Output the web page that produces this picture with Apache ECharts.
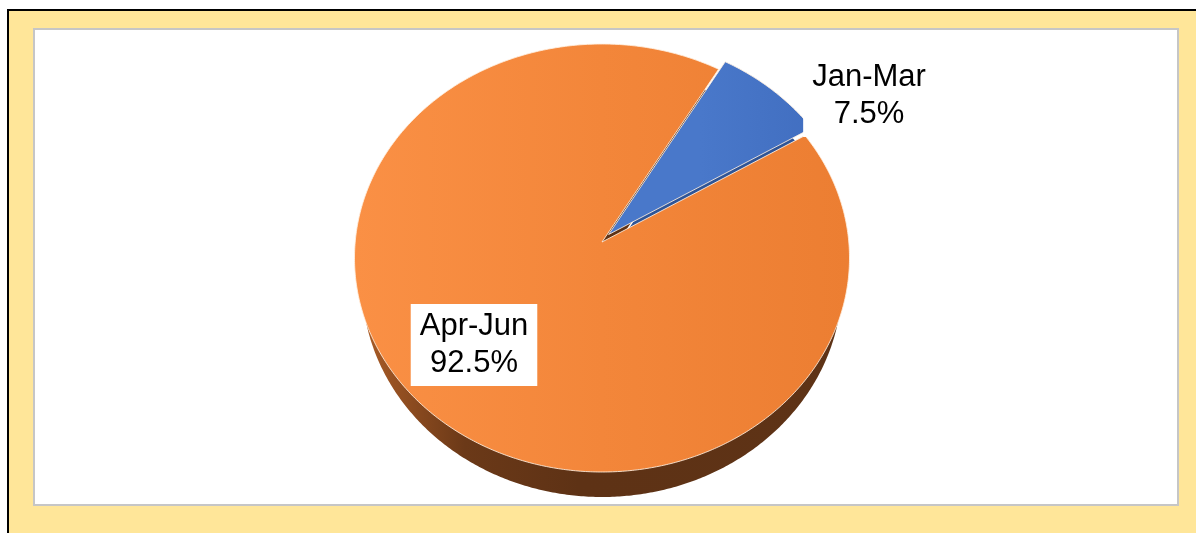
<!DOCTYPE html>
<html>
<head>
<meta charset="utf-8">
<title>Jan-Mar vs Apr-Jun</title>
<script src="https://cdn.jsdelivr.net/npm/echarts@6/dist/echarts.min.js"></script>
<style>
  html, body { margin: 0; padding: 0; background: #fff; }
  #chart { width: 1196px; height: 533px; }
</style>
</head>
<body>
<div id="chart"></div>
<script>
// data
const categories = ['Jan-Mar', 'Apr-Jun'];
const values = [7.5, 92.5];

// layout of the tilted pie (pixels)
const PIE = {
  cx: 602, cy: 258, rx: 247.5, ry: 214,
  apexDy: -16,          // perspective: apex sits above the ellipse centre
  depth: 25, bottomRx: 240,
  startDeg: 28.1,       // first slice starts this far clockwise from 12 o'clock
  explode: [10, 0]
};
const LABEL_POS = [[869, 96], [474, 345]];

const total = values.reduce((a, b) => a + b, 0);
const cum = [];
values.reduce((acc, v, i) => { cum[i] = acc; return acc + v; }, 0);

const topFill = [
  new echarts.graphic.LinearGradient(700, 0, 820, 0, [
    {offset: 0, color: '#4978CA'}, {offset: 1, color: '#416EC0'}
  ], true),
  new echarts.graphic.LinearGradient(354, 0, 850, 0, [
    {offset: 0, color: '#FA9045'}, {offset: 0.5, color: '#F3863A'}, {offset: 1, color: '#EC7E32'}
  ], true)
];
const sideFill = [
  '#2F5597',
  new echarts.graphic.LinearGradient(356, 0, 850, 0, [
    {offset: 0, color: '#AE5E27'}, {offset: 0.22, color: '#6B3918'},
    {offset: 0.45, color: '#5E3215'}, {offset: 1, color: '#5E3316'}
  ], true)
];

function arc(cx, cy, rx, ry, t0, t1, off) {
  const pts = [];
  const n = Math.max(4, Math.ceil(Math.abs(t1 - t0) / 0.01));
  for (let k = 0; k <= n; k++) {
    const t = t0 + (t1 - t0) * k / n;
    pts.push([cx + rx * Math.cos(t) + off[0], cy + ry * Math.sin(t) + off[1]]);
  }
  return pts;
}

function renderItem(params, api) {
  const i = params.dataIndex;
  const v = api.value(0);
  const base = -Math.PI / 2 + PIE.startDeg * Math.PI / 180;
  const t0 = base + cum[i] / total * Math.PI * 2;
  const t1 = t0 + v / total * Math.PI * 2;
  const mid = (t0 + t1) / 2;
  const d = PIE.explode[i];
  const off = [d * Math.cos(mid), d * Math.sin(mid)];
  const apex = [PIE.cx + off[0], PIE.cy + PIE.apexDy + off[1]];

  const topPts = [apex].concat(arc(PIE.cx, PIE.cy, PIE.rx, PIE.ry, t0, t1, off));
  const botPts = [[apex[0], apex[1] + PIE.depth]].concat(
    arc(PIE.cx, PIE.cy + PIE.depth, PIE.bottomRx, PIE.ry, t0, t1, off));

  const pct = (v / total * 100).toFixed(1) + '%';
  return {
    type: 'group',
    children: [
      {type: 'polygon', z2: 1, shape: {points: botPts}, style: {fill: sideFill[i]}},
      {type: 'polygon', z2: 10, shape: {points: topPts},
        style: {fill: topFill[i], stroke: 'rgba(255,240,225,0.85)', lineWidth: 1}},
      {type: 'text', z2: 20, style: {
        text: categories[i] + '\n' + pct,
        x: LABEL_POS[i][0], y: LABEL_POS[i][1],
        align: 'center', verticalAlign: 'middle',
        font: '31px "Liberation Sans", Arial, sans-serif',
        lineHeight: 37, fill: '#000',
        backgroundColor: '#fff', padding: [4, 9]
      }}
    ]
  };
}

const chart = echarts.init(document.getElementById('chart'), null, {renderer: 'canvas'});
chart.setOption({
  animation: false,
  graphic: [
    {type: 'rect', z: -10, shape: {x: 0, y: 0, width: 1196, height: 533}, style: {fill: '#fff'}},
    {type: 'rect', z: -10, shape: {x: 7, y: 9, width: 1189, height: 524}, style: {fill: '#000'}},
    {type: 'rect', z: -10, shape: {x: 9, y: 11, width: 1187, height: 522}, style: {fill: '#FFE699'}},
    {type: 'rect', z: -10, shape: {x: 34, y: 29, width: 1144, height: 476},
      style: {fill: '#fff', stroke: '#C6C6C6', lineWidth: 2}}
  ],
  series: [{
    type: 'custom',
    coordinateSystem: 'none',
    data: values.map((v, i) => ({name: categories[i], value: v})),
    renderItem: renderItem
  }]
});
</script>
</body>
</html>
